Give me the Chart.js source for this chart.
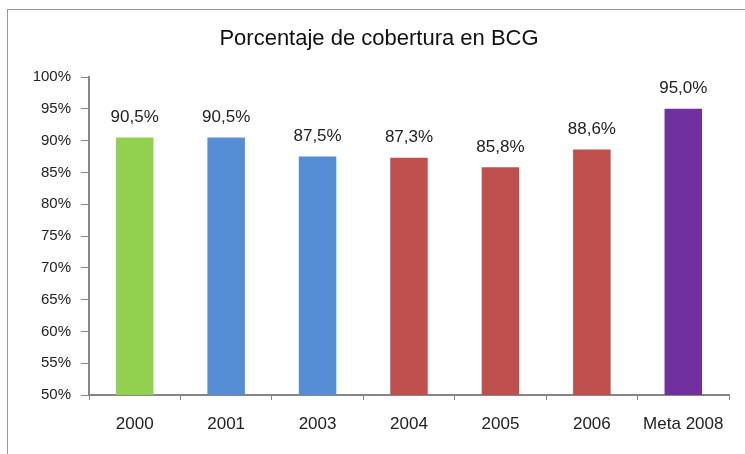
<!DOCTYPE html>
<html>
<head>
<meta charset="utf-8">
<script src="https://cdn.jsdelivr.net/npm/chart.js@4"></script>
<style>
  html, body { margin: 0; padding: 0; background: #fff; }
  #wrap { position: relative; width: 745px; height: 454px; overflow: hidden; }
  #frame { position: absolute; left: 7px; top: 9px; width: 800px; height: 500px; border: 1px solid #9a9a9a; box-sizing: border-box; }
  canvas { position: absolute; left: 0; top: 0; }
</style>
</head>
<body>
<div id="wrap">
  <div id="frame"></div>
  <canvas id="c" width="745" height="454"></canvas>
</div>
<script>
const categories = ["2000", "2001", "2003", "2004", "2005", "2006", "Meta 2008"];
const coverage = [90.5, 90.5, 87.5, 87.3, 85.8, 88.6, 95.0];
const barColors = ["#92D050", "#558ED5", "#558ED5", "#C0504D", "#C0504D", "#C0504D", "#7030A0"];
const yTicks = [50, 55, 60, 65, 70, 75, 80, 85, 90, 95, 100];
const titleText = "Porcentaje de cobertura en BCG";

const FONT = "'Liberation Sans', Arial, sans-serif";

const labelPlugin = {
  id: 'barLabels',
  afterDatasetsDraw(chart) {
    const ctx = chart.ctx;
    const meta = chart.getDatasetMeta(0);
    ctx.save();
    ctx.font = "17px " + FONT;
    ctx.fillStyle = "#222";
    ctx.textAlign = "center";
    ctx.textBaseline = "middle";
    meta.data.forEach((bar, i) => {
      const v = coverage[i].toFixed(1).replace('.', ',') + '%';
      ctx.fillText(v, bar.x, bar.y - 20);
    });
    ctx.restore();
  },
  afterDraw(chart) {
    const ctx = chart.ctx;
    ctx.save();
    ctx.font = "22px " + FONT;
    ctx.fillStyle = "#111";
    ctx.textAlign = "center";
    ctx.textBaseline = "middle";
    ctx.fillText(titleText, 379, 39);
    ctx.restore();
  }
};

new Chart(document.getElementById('c'), {
  type: 'bar',
  data: {
    labels: categories,
    datasets: [{
      data: coverage,
      backgroundColor: barColors,
      borderWidth: 0,
      categoryPercentage: 1.0,
      barPercentage: 0.41
    }]
  },
  options: {
    responsive: false,
    animation: false,
    layout: { padding: { left: 0, right: 16, top: 77, bottom: 0 } },
    plugins: {
      legend: { display: false },
      tooltip: { enabled: false },
      title: { display: false }
    },
    scales: {
      x: {
        afterFit(s) { s.height = 59; },
        grid: { display: true, drawOnChartArea: false, drawTicks: true, tickLength: 5, color: "#868686", offset: true },
        border: { display: true, color: "#868686", width: 2 },
        ticks: { color: "#222", font: { family: FONT, size: 17 }, padding: 14, maxRotation: 0 }
      },
      y: {
        min: 50, max: 100,
        afterFit(s) { s.width = 89; },
        afterBuildTicks(s) { s.ticks = yTicks.map(v => ({ value: v })); },
        grid: { display: true, drawOnChartArea: false, drawTicks: true, tickLength: 8, color: "#868686" },
        border: { display: true, color: "#868686", width: 2 },
        ticks: { color: "#222", font: { family: FONT, size: 15 }, padding: 10, callback: v => v + '%' }
      }
    }
  },
  plugins: [labelPlugin]
});
</script>
</body>
</html>
